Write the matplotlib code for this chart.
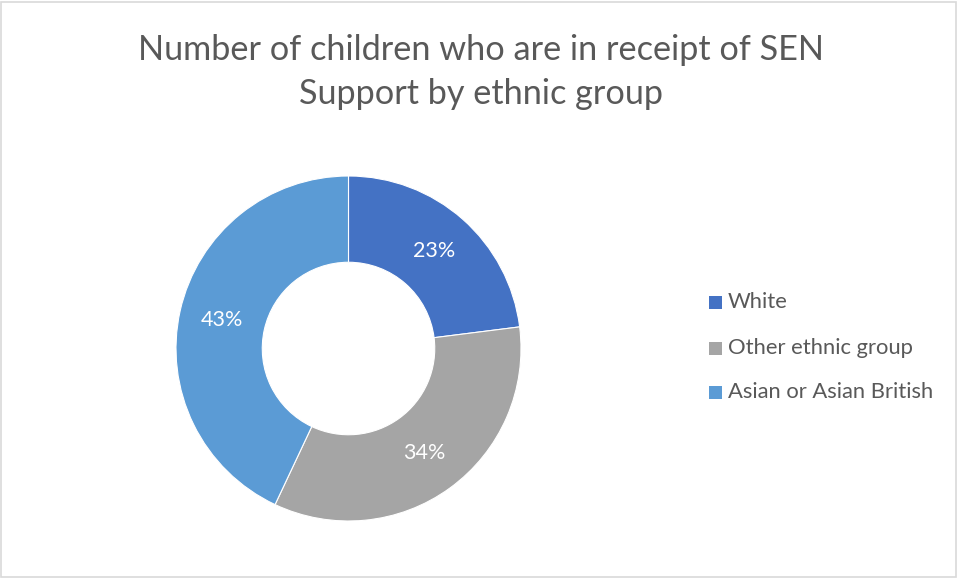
import matplotlib
matplotlib.use("Agg")
import matplotlib.pyplot as plt
from matplotlib.patches import Rectangle

categories = ["White", "Other ethnic group", "Asian or Asian British"]
shares = [23, 34, 43]
colors = ["#4472C4", "#A5A5A5", "#5B9BD5"]
title = "Number of children who are in receipt of SEN\nSupport by ethnic group"

W, H = 958, 578
fig = plt.figure(figsize=(W / 100, H / 100), dpi=100)
plt.rcParams["font.family"] = ["Lato", "DejaVu Sans"]

# outer border of the chart area
fig.patches.append(Rectangle((1 / W, 1 / H), (W - 3) / W, (H - 3) / H,
                             transform=fig.transFigure, fill=False,
                             edgecolor="#D9D9D9", linewidth=1.2))

# donut axes placed by pixel geometry
cx, cy, r = 348.5, 348.5, 172.5
ax = fig.add_axes([(cx - r) / W, (H - cy - r) / H, 2 * r / W, 2 * r / H])
wedges, _, autotexts = ax.pie(
    shares, colors=colors, startangle=90, counterclock=False,
    autopct="%d%%", pctdistance=0.75,
    wedgeprops=dict(width=0.5, edgecolor="white", linewidth=0.8),
    textprops=dict(color="white", fontsize=15.5),
)
ax.set_xlim(-1, 1)
ax.set_ylim(-1, 1)
ax.set_aspect("equal")
ax.axis("off")

fig.text(0.502, 1 - 72 / H, title, ha="center", va="center",
         fontsize=24.7, color="#595959", linespacing=1.5)

# legend
leg_y = [302, 348, 392]
for lab, col, y in zip(categories, colors, leg_y):
    fig.patches.append(Rectangle((709 / W, (H - y - 6.5) / H), 13 / W, 13 / H,
                                 transform=fig.transFigure, facecolor=col,
                                 edgecolor="none"))
    fig.text(728 / W, (H - y) / H, lab, ha="left", va="center",
             fontsize=15.8, color="#595959")

fig.savefig("out.png", dpi=100, facecolor="white")
